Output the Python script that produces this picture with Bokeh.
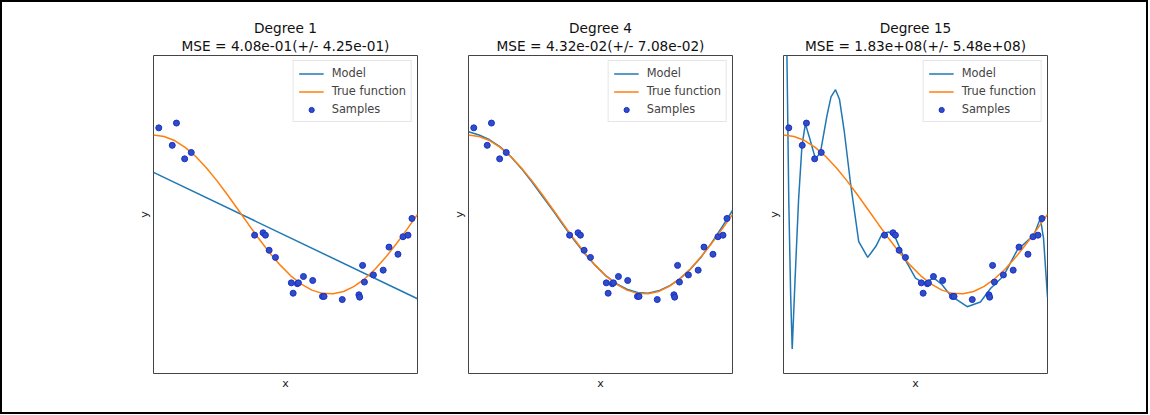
from bokeh.plotting import figure
from bokeh.models import Title, FixedTicker
from bokeh.layouts import row
from bokeh.embed import file_html
from bokeh.resources import INLINE

# ---- data ----
DEGREES = [1, 4, 15]
MSE_TEXT = [
    "MSE = 4.08e-01(+/- 4.25e-01)",
    "MSE = 4.32e-02(+/- 7.08e-02)",
    "MSE = 1.83e+08(+/- 5.48e+08)",
]

X_SAMPLES = [0.020, 0.071, 0.087, 0.118, 0.143, 0.383, 0.415, 0.424, 0.438, 0.462,
             0.522, 0.529, 0.545, 0.549, 0.568, 0.603, 0.640, 0.646, 0.715, 0.778,
             0.781, 0.792, 0.799, 0.833, 0.870, 0.892, 0.926, 0.945, 0.964, 0.979]
Y_SAMPLES = [1.09, 0.87, 1.15, 0.70, 0.78, -0.26, -0.23, -0.26, -0.45, -0.54,
             -0.86, -0.99, -0.87, -0.86, -0.78, -0.83, -1.03, -1.03, -1.07, -1.01,
             -1.04, -0.64, -0.85, -0.76, -0.70, -0.41, -0.50, -0.28, -0.26, -0.05]

TRUE_X = [0.00, 0.04, 0.08, 0.12, 0.16, 0.20, 0.24, 0.28, 0.32, 0.36, 0.40, 0.44, 0.48,
          0.52, 0.56, 0.60, 0.64, 0.68, 0.72, 0.76, 0.80, 0.84, 0.88, 0.92, 0.96, 1.00]
TRUE_Y = [1.000, 0.982, 0.930, 0.844, 0.729, 0.588, 0.426, 0.249, 0.063, -0.125,
          -0.309, -0.482, -0.637, -0.771, -0.876, -0.951, -0.992, -0.998, -0.969,
          -0.905, -0.809, -0.685, -0.536, -0.368, -0.187, 0.000]

MODEL1_X = [0.0, 1.0]
MODEL1_Y = [0.53, -1.06]

MODEL4_X = TRUE_X
MODEL4_Y = [1.04, 1.00, 0.94, 0.85, 0.73, 0.58, 0.41, 0.23, 0.05, -0.14, -0.32, -0.49,
            -0.64, -0.77, -0.87, -0.94, -0.98, -0.99, -0.96, -0.90, -0.81, -0.69,
            -0.54, -0.36, -0.16, 0.05]

MODEL15_X = [0.0, 0.013, 0.020, 0.027, 0.033, 0.044, 0.057, 0.070, 0.083, 0.100, 0.121,
             0.140, 0.165, 0.180, 0.197, 0.212, 0.230, 0.254, 0.285, 0.319, 0.350, 0.374,
             0.400, 0.425, 0.456, 0.500, 0.530, 0.570, 0.600, 0.633, 0.696, 0.746,
             0.784, 0.834, 0.885, 0.948, 0.973, 0.985, 1.0]
MODEL15_Y = [6.0, 2.0, 0.18, -1.0, -1.69, -0.8, 0.18, 0.87, 1.14, 0.95, 0.70,
             0.78, 1.25, 1.48, 1.57, 1.45, 1.05, 0.39, -0.34, -0.54, -0.40, -0.24,
             -0.22, -0.30, -0.54, -0.80, -0.86, -0.80, -0.88, -1.02, -1.16, -1.10,
             -0.93, -0.77, -0.45, -0.26, -0.05, -0.30, -1.04]

MODELS = [(MODEL1_X, MODEL1_Y), (MODEL4_X, MODEL4_Y), (MODEL15_X, MODEL15_Y)]

FONT = "DejaVu Sans"


def make_panel(i, width, left, right):
    p = figure(width=width, height=410, x_range=(0, 1), y_range=(-2, 2),
               output_backend="svg", toolbar_location=None, title=None,
               min_border_left=left, min_border_right=right,
               min_border_top=53, min_border_bottom=39)
    p.grid.visible = False
    p.outline_line_color = "#444444"
    p.outline_line_width = 1
    for ax in (p.xaxis[0], p.yaxis[0]):
        ax.ticker = FixedTicker(ticks=[])
        ax.axis_line_color = None
        ax.major_tick_line_color = None
        ax.minor_tick_line_color = None
        ax.major_tick_out = 0
        ax.major_label_standoff = 0
        ax.major_label_text_font_size = "0px"
        ax.axis_label_text_font_style = "normal"
        ax.axis_label_text_font_size = "11px"
        ax.axis_label_text_font = FONT
        ax.axis_label_text_color = "#222222"
        ax.axis_label_standoff = 3
    p.xaxis.axis_label = "x"
    p.yaxis.axis_label = "y"

    mx, my = MODELS[i]
    p.line(mx, my, color="#1f77b4", line_width=1.5, legend_label="Model")
    p.line(TRUE_X, TRUE_Y, color="#ff7f0e", line_width=1.5, legend_label="True function")
    p.scatter(X_SAMPLES, Y_SAMPLES, size=6, fill_color="#2f4fc0", line_color="#1a2fd0",
              line_width=1, legend_label="Samples")

    p.add_layout(Title(text=MSE_TEXT[i], align="center",
                       text_font_size="13.7px", text_font_style="normal", text_font=FONT,
                       text_color="#111111", standoff=3), "above")
    p.add_layout(Title(text=f"Degree {DEGREES[i]}", align="center",
                       text_font_size="13.7px", text_font_style="normal", text_font=FONT,
                       text_color="#111111", standoff=-3), "above")

    lg = p.legend[0]
    lg.location = "top_right"
    lg.margin = 5
    lg.padding = 5
    lg.spacing = 4
    lg.label_height = 13
    lg.glyph_height = 13
    lg.glyph_width = 25
    lg.label_standoff = 8
    lg.label_text_font_size = "11.4px"
    lg.label_text_font = FONT
    lg.border_line_color = "#cccccc"
    lg.background_fill_alpha = 0.8
    return p


p1 = make_panel(0, 440, 151, 25)
p2 = make_panel(1, 315, 26, 25)
p3 = make_panel(2, 389, 26, 99)

layout = row(p1, p2, p3, styles={"border": "2px solid black"})

open("out.html", "w").write(file_html(layout, INLINE))
